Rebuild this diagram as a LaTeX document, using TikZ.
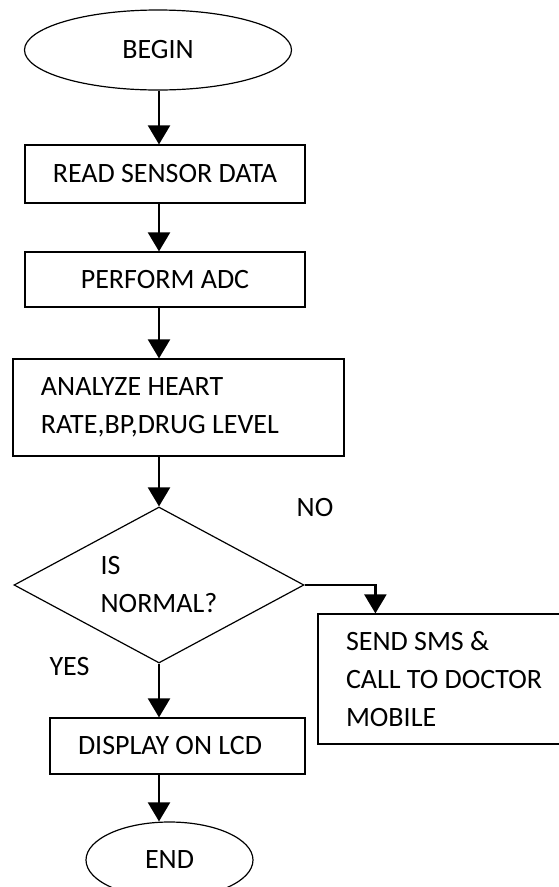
\documentclass[tikz,border=0pt]{standalone}
\usepackage{fontspec}
\setmainfont{Carlito}
\usetikzlibrary{arrows.meta,shapes.geometric,positioning}
\newcommand\flowfont{\fontsize{28}{38}\selectfont\hyphenpenalty=10000\relax}
\tikzset{
  every node/.style={font=\flowfont},
  terminal/.style={draw,ellipse,line width=1.2pt,inner sep=0pt},
  procbox/.style={draw,rectangle,line width=1.2pt,inner sep=0pt},
  leftbox/.style={draw,rectangle,line width=1.2pt,inner xsep=28pt,inner ysep=0pt,align=flush left},
  decision/.style={draw,diamond,line width=1.2pt,inner sep=0pt,aspect=1.86,align=flush left},
  flow/.style={-{Triangle[length=19pt,width=22pt]},line width=2.2pt}
}
\begin{document}
\begin{tikzpicture}[x=1pt,y=-1pt]
\useasboundingbox (0,0) rectangle (559,887);
\node[terminal,minimum width=267pt,minimum height=80pt] (begin) at (158,50) {BEGIN};
\node[procbox,minimum width=280pt,minimum height=58pt] (read) at (165,174) {READ SENSOR DATA};
\node[procbox,minimum width=280pt,minimum height=55pt] (perform) at (165,279.5) {PERFORM ADC};
\node[leftbox,text width=275pt,minimum height=97pt] (analyze) at (178.5,407.5) {ANALYZE HEART\\RATE,BP,DRUG LEVEL};
\node[decision,minimum width=290pt,minimum height=156pt] (dec) at (159,585) {IS\\NORMAL?};
\node[leftbox,text width=201pt,minimum height=130pt] (sms) at (446.5,679) {SEND SMS \&\\CALL TO DOCTOR\\MOBILE};
\node[leftbox,text width=199pt,minimum height=56pt] (display) at (177.5,746) {DISPLAY ON LCD};
\node[terminal,minimum width=167pt,minimum height=76pt] (end) at (169.5,860) {END};
\node (no) at (315,508) {NO};
\node (yes) at (69.5,667) {YES};
% main line
\draw[flow] (dec.north |- begin.south) -- (dec.north |- read.north);
\draw[flow] (dec.north |- read.south) -- (dec.north |- perform.north);
\draw[flow] (dec.north |- perform.south) -- (dec.north |- analyze.north);
\draw[flow] (dec.north |- analyze.south) -- (dec.north);
\draw[flow] (dec.south) -- (dec.south |- display.north);
\draw[flow] (dec.south |- display.south) -- (dec.south |- end.north);
% no branch
\draw[flow] (dec.east) -| ([xshift=58pt]sms.north west);
\end{tikzpicture}
\end{document}
